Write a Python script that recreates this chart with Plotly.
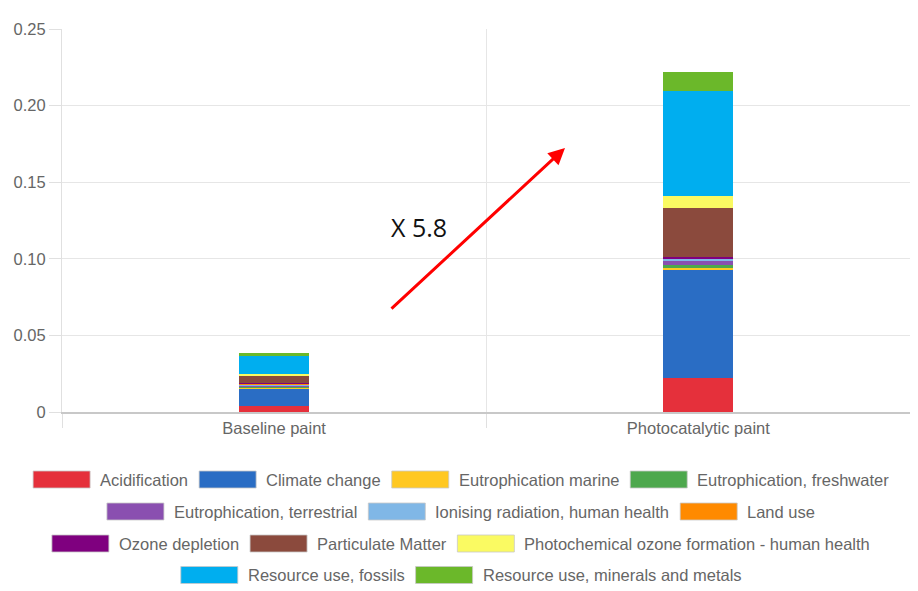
import plotly.graph_objects as go

# ---- data -------------------------------------------------------------
products = ["Baseline paint", "Photocatalytic paint"]

categories = [
    "Acidification",
    "Climate change",
    "Eutrophication marine",
    "Eutrophication, freshwater",
    "Eutrophication, terrestrial",
    "Ionising radiation, human health",
    "Land use",
    "Ozone depletion",
    "Particulate Matter",
    "Photochemical ozone formation - human health",
    "Resource use, fossils",
    "Resource use, minerals and metals",
]

colors = [
    "#E5303B", "#2A6DC4", "#FFC822", "#4DA84D", "#8A4FB0", "#80B7E6",
    "#FF8A00", "#7F007F", "#8B4A3D", "#FAFA62", "#00AEEF", "#6BB82A",
]

baseline_values = [0.0041, 0.0113, 0.0006, 0.0006, 0.0010, 0.0006,
                   0.0003, 0.0002, 0.0046, 0.0017, 0.0113, 0.0020]
photocatalytic_values = [0.0220, 0.0705, 0.0017, 0.0017, 0.0028, 0.0013,
                         0.0005, 0.0005, 0.0320, 0.0078, 0.0685, 0.0126]

y_tick_values = [0, 0.05, 0.10, 0.15, 0.20, 0.25]
y_tick_labels = ["0", "0.05", "0.10", "0.15", "0.20", "0.25"]

ratio_label = "X 5.8"

# ---- page geometry ----------------------------------------------------
W, H = 918, 591
M_L, M_R, M_T, M_B = 62, 8, 29, 179
PLOT_W = W - M_L - M_R
PLOT_H = H - M_T - M_B

FONT = "Liberation Sans, Arial, sans-serif"
TEXT_GREY = "#666666"
FS = 16.5


def px_to_paper(px, py):
    return (px - M_L) / PLOT_W, (H - M_B - py) / PLOT_H


# Arial advance widths (per 1000 em) for laying out the legend rows
ARIAL_W = {
    " ": 278, ",": 278, "-": 333, "A": 667, "C": 722, "E": 667, "I": 278,
    "L": 556, "M": 833, "O": 778, "P": 667, "R": 722, "a": 556, "b": 556,
    "c": 500, "d": 556, "e": 556, "f": 278, "g": 556, "h": 556, "i": 222,
    "k": 500, "l": 222, "m": 833, "n": 556, "o": 556, "p": 556, "r": 333,
    "s": 500, "t": 278, "u": 556, "v": 500, "w": 722, "x": 500, "y": 500,
    "z": 500,
}


def text_width(s, size=FS):
    return sum(ARIAL_W.get(ch, 556) for ch in s) * size / 1000.0


# ---- bars -------------------------------------------------------------
fig = go.Figure()
for name, color, b, p in zip(categories, colors, baseline_values,
                             photocatalytic_values):
    fig.add_trace(go.Bar(
        x=products, y=[b, p], name=name,
        marker=dict(color=color, line=dict(width=0)),
        showlegend=False,
    ))

# ---- custom centred legend with wide colour boxes ----------------------
BOX_W, BOX_H = 57, 17
GAP_TXT, GAP_ITEM = 8, 13
MAX_ROW = 880
ROW_Y = [479.5, 511.5, 543.5, 575.0]
CENTER_X = 460

items = [(n, c, BOX_W + GAP_TXT + text_width(n)) for n, c in zip(categories, colors)]
rows, cur, cur_w = [], [], 0
for it in items:
    add = it[2] + (GAP_ITEM if cur else 0)
    if cur and cur_w + add > MAX_ROW:
        rows.append((cur, cur_w))
        cur, cur_w = [], 0
        add = it[2]
    cur.append(it)
    cur_w += add
rows.append((cur, cur_w))

shapes = []
annotations = []
for (row, row_w), ry in zip(rows, ROW_Y):
    x = CENTER_X - row_w / 2
    for name, color, w in row:
        x0, y0 = px_to_paper(x, ry + BOX_H / 2)
        x1, y1 = px_to_paper(x + BOX_W, ry - BOX_H / 2)
        shapes.append(dict(
            type="rect", xref="paper", yref="paper",
            x0=x0, x1=x1, y0=y0, y1=y1,
            fillcolor=color, line=dict(color="rgba(200,200,200,0.8)", width=1),
        ))
        tx, ty = px_to_paper(x + BOX_W + GAP_TXT, ry)
        annotations.append(dict(
            xref="paper", yref="paper", x=tx, y=ty,
            xanchor="left", yanchor="middle", showarrow=False,
            text=name, font=dict(family=FONT, size=FS, color=TEXT_GREY),
        ))
        x += w + GAP_ITEM

# ---- growth arrow and ratio label --------------------------------------
tip_x, tip_y = px_to_paper(565, 148)
annotations.append(dict(
    xref="paper", yref="paper", x=tip_x, y=tip_y,
    ax=390 - 565, ay=310 - 148, axref="pixel", ayref="pixel",
    text="", showarrow=True, arrowhead=2, arrowsize=1.1, arrowwidth=3,
    arrowcolor="#FF0000", standoff=0,
))
lx, ly = px_to_paper(419, 227)
annotations.append(dict(
    xref="paper", yref="paper", x=lx, y=ly,
    xanchor="center", yanchor="middle", showarrow=False,
    text=ratio_label, font=dict(family="Open Sans, sans-serif", size=25, color="#111111"),
))

fig.update_layout(
    width=W, height=H,
    margin=dict(l=M_L, r=M_R, t=M_T, b=M_B, pad=0),
    paper_bgcolor="white", plot_bgcolor="white",
    barmode="stack", bargap=0.835,
    showlegend=False,
    shapes=shapes, annotations=annotations,
    font=dict(family=FONT, size=FS, color=TEXT_GREY),
    xaxis=dict(
        type="category", tickson="boundaries", range=[-0.5, 1.499],
        showgrid=True, gridcolor="#e6e6e6", gridwidth=1,
        ticks="outside", ticklen=14, tickcolor="#e0e0e0",
        showline=True, linecolor="#c8c8c8", linewidth=1.5,
        zeroline=False, automargin=False,
        tickfont=dict(family=FONT, size=FS, color=TEXT_GREY),
    ),
    yaxis=dict(
        range=[0, 0.25], tickvals=y_tick_values, ticktext=y_tick_labels,
        showgrid=True, gridcolor="#e6e6e6", gridwidth=1,
        ticks="outside", ticklen=12, tickcolor="#e0e0e0",
        showline=True, linecolor="#e0e0e0", linewidth=1,
        zeroline=False, automargin=False,
        tickfont=dict(family=FONT, size=FS, color=TEXT_GREY),
    ),
)

fig.write_html("out.html")
